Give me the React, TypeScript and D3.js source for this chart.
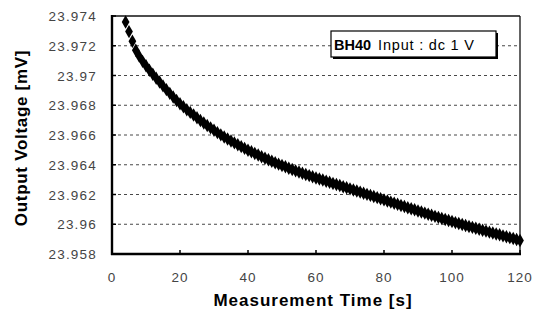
import React from "react";
import * as d3 from "d3";

const times: number[] = [
  4, 5, 6, 7, 8, 9, 10, 11, 12, 13, 14, 15, 16, 17, 18, 19, 20, 21, 22, 23, 24, 25, 26, 27, 28, 29, 30,
  31, 32, 33, 34, 35, 36, 37, 38, 39, 40, 41, 42, 43, 44, 45, 46, 47, 48, 49, 50, 51, 52, 53, 54, 55, 56,
  57, 58, 59, 60, 61, 62, 63, 64, 65, 66, 67, 68, 69, 70, 71, 72, 73, 74, 75, 76, 77, 78, 79, 80, 81, 82,
  83, 84, 85, 86, 87, 88, 89, 90, 91, 92, 93, 94, 95, 96, 97, 98, 99, 100, 101, 102, 103, 104, 105, 106,
  107, 108, 109, 110, 111, 112, 113, 114, 115, 116, 117, 118, 119, 120,
];

const voltages: number[] = [
  23.9736, 23.97295, 23.9723, 23.9717, 23.9713, 23.97095, 23.97065, 23.97035, 23.97008, 23.96982,
  23.96956, 23.9693, 23.96905, 23.9688, 23.96855, 23.96832, 23.9681, 23.9679, 23.9677, 23.96752,
  23.96734, 23.96716, 23.96698, 23.96681, 23.96664, 23.96648, 23.96632, 23.96616, 23.96601, 23.96587,
  23.96573, 23.9656, 23.96547, 23.96534, 23.96522, 23.9651, 23.96498, 23.96487, 23.96476, 23.96465,
  23.96454, 23.96444, 23.96434, 23.96424, 23.96414, 23.96404, 23.96395, 23.96386, 23.96377, 23.96368,
  23.96359, 23.96351, 23.96343, 23.96335, 23.96327, 23.96319, 23.96311, 23.96304, 23.96297, 23.96289,
  23.96282, 23.96274, 23.96267, 23.9626, 23.96252, 23.96245, 23.96238, 23.9623, 23.96223, 23.96216,
  23.96208, 23.96201, 23.96194, 23.96186, 23.96179, 23.96171, 23.96164, 23.96156, 23.96149, 23.96141,
  23.96134, 23.96126, 23.96119, 23.96111, 23.96104, 23.96097, 23.96089, 23.96082, 23.96075, 23.96067,
  23.9606, 23.96053, 23.96046, 23.96039, 23.96032, 23.96025, 23.96018, 23.96011, 23.96005, 23.95998,
  23.95992, 23.95985, 23.95979, 23.95973, 23.95966, 23.9596, 23.95954, 23.95947, 23.95941, 23.95935,
  23.95929, 23.95922, 23.95916, 23.9591, 23.95904, 23.95898, 23.95891,
];

const xTicks: number[] = [0, 20, 40, 60, 80, 100, 120];
const yTicks: number[] = [23.958, 23.96, 23.962, 23.964, 23.966, 23.968, 23.97, 23.972, 23.974];
const yTickLabels: string[] = ["23.958", "23.96", "23.962", "23.964", "23.966", "23.968", "23.97", "23.972", "23.974"];

const xTitle = "Measurement Time [s]";
const yTitle = "Output Voltage [mV]";
const legendBold = "BH40";
const legendText = "Input : dc 1 V";

export default function App() {
  const W = 543;
  const H = 323;
  const left = 112;
  const right = 520;
  const top = 16;
  const bottom = 254;

  const x = d3.scaleLinear().domain([0, 120]).range([left, right]);
  const y = d3.scaleLinear().domain([23.958, 23.974]).range([bottom, top]);

  const diamond = d3.symbol().type(d3.symbolDiamond).size(52)();
  const tickFont = "'Liberation Sans', Arial, sans-serif";

  return (
    <svg
      width={W}
      height={H}
      style={{ position: "absolute", left: 0, top: 0, background: "#fff" }}
      fontFamily="'Liberation Sans', Arial, sans-serif"
    >
      <rect x={0} y={0} width={W} height={H} fill="#fff" />
      {yTicks
        .filter((v) => v > 23.9585 && v < 23.9735)
        .map((v) => (
          <line
            key={"g" + v}
            x1={left}
            x2={right}
            y1={y(v)}
            y2={y(v)}
            stroke="#333"
            strokeWidth={0.9}
            strokeDasharray="3,3"
          />
        ))}
      <line x1={left} x2={right} y1={top} y2={top} stroke="#111" strokeWidth={1.3} />
      <line x1={right} x2={right} y1={top} y2={bottom} stroke="#111" strokeWidth={1.3} />
      <line x1={left} x2={left} y1={top - 1} y2={bottom + 1} stroke="#000" strokeWidth={2.4} />
      <line x1={left - 1} x2={right + 1} y1={bottom} y2={bottom} stroke="#000" strokeWidth={2.4} />
      {xTicks.map((t) => (
        <line key={"xt" + t} x1={x(t)} x2={x(t)} y1={bottom} y2={bottom - 4} stroke="#000" strokeWidth={1.5} />
      ))}
      {yTicks.map((v) => (
        <line key={"yt" + v} x1={left} x2={left + 4} y1={y(v)} y2={y(v)} stroke="#000" strokeWidth={1.5} />
      ))}
      {xTicks.map((t) => (
        <text
          key={"xl" + t}
          x={x(t)}
          y={282}
          textAnchor="middle"
          fontSize={13.5}
          fontFamily={tickFont}
          letterSpacing={1}
          fill="#444"
        >
          {t}
        </text>
      ))}
      {yTicks.map((v, i) => (
        <text
          key={"yl" + v}
          x={97}
          y={y(v) + 5}
          textAnchor="end"
          fontSize={13.5}
          fontFamily={tickFont}
          letterSpacing={1.2}
          fill="#444"
        >
          {yTickLabels[i]}
        </text>
      ))}
      {times.map((t, i) => (
        <path key={"p" + i} d={diamond} transform={`translate(${x(t)},${y(voltages[i])})`} fill="#000" />
      ))}
      <rect x={333} y={33} width={165} height={26} fill="#000" />
      <rect x={331} y={31} width={165} height={26} fill="#fff" stroke="#000" strokeWidth={1.2} />
      <text x={334} y={50} fontSize={14.5} fill="#000">
        <tspan fontWeight="bold">{legendBold}</tspan>
        <tspan dx={7} letterSpacing={0.8}>
          {legendText}
        </tspan>
      </text>
      <text
        x={313}
        y={306}
        textAnchor="middle"
        fontSize={17}
        fontWeight="bold"
        letterSpacing={1}
        fill="#000"
      >
        {xTitle}
      </text>
      <text
        transform={`translate(27,138) rotate(-90)`}
        textAnchor="middle"
        fontSize={17}
        fontWeight="bold"
        letterSpacing={0.7}
        fill="#000"
      >
        {yTitle}
      </text>
    </svg>
  );
}
